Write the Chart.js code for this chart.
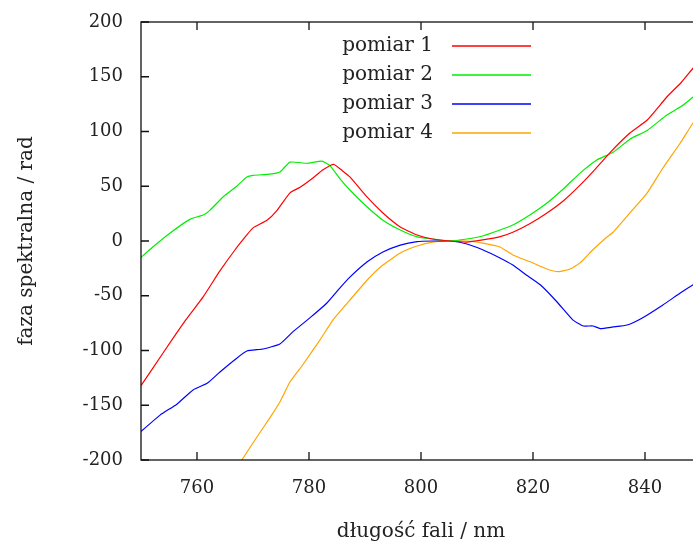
<!DOCTYPE html>
<html>
<head>
<meta charset="utf-8">
<script src="https://cdn.jsdelivr.net/npm/chart.js@4.4.1/dist/chart.umd.min.js"></script>
<style>
  html, body { margin: 0; padding: 0; background: #fff; overflow: hidden; }
  #wrap { width: 710px; height: 543px; }
  canvas { display: block; }
</style>
</head>
<body>
<div id="wrap"><canvas id="c" width="710" height="543"></canvas></div>
<script>
// values (wavelength in nm, phase in rad)
const lambda1 = [750, 752, 755.7, 758, 761.1, 764, 766.8, 768.9, 770, 772.5, 774.3, 776.6, 778.4, 780.7, 782.5, 784.4, 786, 787.3, 790.4, 793.2, 796.3, 799.3, 802.1, 805.2, 808.2, 811, 814, 816.4, 819.5, 822.5, 825.5, 828.4, 831, 833.8, 837.3, 840.4, 843.9, 846.5, 848.6, 850];
const faza1   = [-132, -117, -89, -72, -51, -28, -8, 5.5, 12, 19, 28, 44, 49, 57.5, 65, 70, 64, 58.5, 40, 25.6, 12.8, 5.5, 1.8, 0, -1, 1, 3.7, 8, 16, 25.6, 37, 51, 65, 81, 98.6, 110.5, 131.5, 145, 158, 166];

const lambda2 = [750, 752, 755.2, 758.8, 761.1, 762.3, 764.6, 767.1, 768.9, 770, 773, 774.8, 776.6, 779.6, 782.3, 783.7, 785.5, 787.3, 790.4, 793.2, 796.3, 799.3, 802.1, 805.2, 808.2, 811, 814.1, 816.4, 819.5, 822.5, 825.5, 828.4, 831.4, 834.3, 837.3, 840.4, 843.9, 846.5, 848.6, 850];
const faza2   = [-15, -6, 7.3, 20, 23.7, 28, 40, 50, 58.5, 60, 61, 63, 72, 71, 73, 69, 57, 46.6, 31, 19, 10, 3.7, 1.8, 0, 1.8, 4.6, 10, 14.6, 24, 34.7, 48, 62, 74, 81, 93, 101, 115, 123, 131.5, 137];

const lambda3 = [750, 753.4, 756.4, 759.3, 761.8, 764.1, 767.1, 768.9, 771.8, 774.8, 777.1, 780.2, 783.2, 785.5, 787.3, 790.4, 793.2, 796.3, 799.3, 802.1, 805.2, 808.2, 811, 814.1, 816.4, 818.8, 821.3, 824.3, 827.1, 829, 830.7, 832, 834.3, 836.8, 839.6, 843.2, 846.3, 848.6, 850];
const faza3   = [-174, -159, -149, -136, -130, -119.6, -107, -100.5, -98.6, -94, -83, -70, -56.6, -43, -33, -19, -10, -3.7, -0.5, 0, 0, -2.7, -8, -15.5, -22, -31, -40, -55.7, -72, -77.6, -77.6, -80, -78.5, -76.7, -70, -58.4, -47.5, -40, -36];

const lambda4 = [768, 770.7, 773, 774.8, 776.6, 778.9, 782, 784.3, 787.3, 790.4, 793.2, 796.3, 799.3, 802.1, 805.2, 808.2, 811, 814.1, 816.4, 819.5, 822.5, 824.5, 826.6, 828.4, 830.7, 833.2, 834.3, 837.3, 840.4, 843.2, 846.3, 848.6, 850];
const faza4   = [-200, -179, -161.6, -147, -128.8, -113, -90, -72, -54, -35.6, -22, -11, -4.6, -1, 0, 0, -2, -5.5, -12.8, -19, -25.6, -28, -25.6, -20, -8, 3.7, 8, 25.6, 44, 66.7, 89.5, 108, 117];

const labels = ["pomiar 1", "pomiar 2", "pomiar 3", "pomiar 4"];
const colors = ["#ff0000", "#00ee00", "#0000ff", "#ffa500"];
const xTicks = [760, 780, 800, 820, 840];
const yTicks = [-200, -150, -100, -50, 0, 50, 100, 150, 200];

const FONT = "DejaVu Serif";

function pts(xs, ys) { return xs.map((x, i) => ({ x, y: ys[i] })); }

// frame, inward ticks on all sides, gnuplot-like legend and axis titles
const frame = {
  id: "frame",
  afterDraw(c) {
    const { ctx, chartArea: a, scales } = c;
    ctx.save();
    ctx.strokeStyle = "#111";
    ctx.lineWidth = 1.3;
    ctx.strokeRect(a.left, a.top, a.right - a.left, a.bottom - a.top);
    ctx.beginPath();
    xTicks.forEach(v => {
      const px = scales.x.getPixelForValue(v);
      ctx.moveTo(px, a.bottom); ctx.lineTo(px, a.bottom - 8);
      ctx.moveTo(px, a.top); ctx.lineTo(px, a.top + 8);
    });
    yTicks.forEach(v => {
      const py = scales.y.getPixelForValue(v);
      ctx.moveTo(a.left, py); ctx.lineTo(a.left + 8, py);
      ctx.moveTo(a.right, py); ctx.lineTo(a.right - 8, py);
    });
    ctx.stroke();

    ctx.fillStyle = "#222";
    ctx.font = `20px "${FONT}"`;
    ctx.textAlign = "right";
    ctx.textBaseline = "middle";
    c.data.datasets.forEach((d, i) => {
      const y = 46 + i * 29;
      ctx.fillText(d.label, 433, y);
      ctx.strokeStyle = d.borderColor;
      ctx.lineWidth = 1.3;
      ctx.beginPath();
      ctx.moveTo(452, y); ctx.lineTo(531, y);
      ctx.stroke();
    });

    ctx.textAlign = "center";
    ctx.fillText("długość fali / nm", 421, 532);
    ctx.translate(27, 241);
    ctx.rotate(-Math.PI / 2);
    ctx.fillText("faza spektralna / rad", 0, 0);
    ctx.restore();
  }
};

new Chart(document.getElementById("c"), {
  type: "line",
  data: {
    datasets: [
      { label: labels[0], data: pts(lambda1, faza1) },
      { label: labels[1], data: pts(lambda2, faza2) },
      { label: labels[2], data: pts(lambda3, faza3) },
      { label: labels[3], data: pts(lambda4, faza4) }
    ].map((d, i) => Object.assign(d, {
      borderColor: colors[i],
      borderWidth: 1.2,
      pointRadius: 0,
      tension: 0.15,
      fill: false
    }))
  },
  options: {
    responsive: false,
    animation: false,
    layout: { padding: { left: 0, right: 9, top: 22, bottom: 0 } },
    plugins: { legend: { display: false }, tooltip: { enabled: false } },
    scales: {
      x: {
        type: "linear",
        min: 750, max: 850,
        afterBuildTicks: s => { s.ticks = xTicks.map(v => ({ value: v })); },
        afterFit: s => { s.height = 83; s.paddingLeft = 0; s.paddingRight = 0; },
        grid: { display: false, drawTicks: false },
        border: { display: false },
        ticks: { padding: 18, color: "#222", font: { family: FONT, size: 18 } }
      },
      y: {
        min: -200, max: 200,
        afterBuildTicks: s => { s.ticks = yTicks.map(v => ({ value: v })); },
        afterFit: s => { s.width = 141; s.paddingTop = 0; s.paddingBottom = 0; },
        grid: { display: false, drawTicks: false },
        border: { display: false },
        ticks: { padding: 18, color: "#222", font: { family: FONT, size: 18 } }
      }
    }
  },
  plugins: [frame]
});
</script>
</body>
</html>
